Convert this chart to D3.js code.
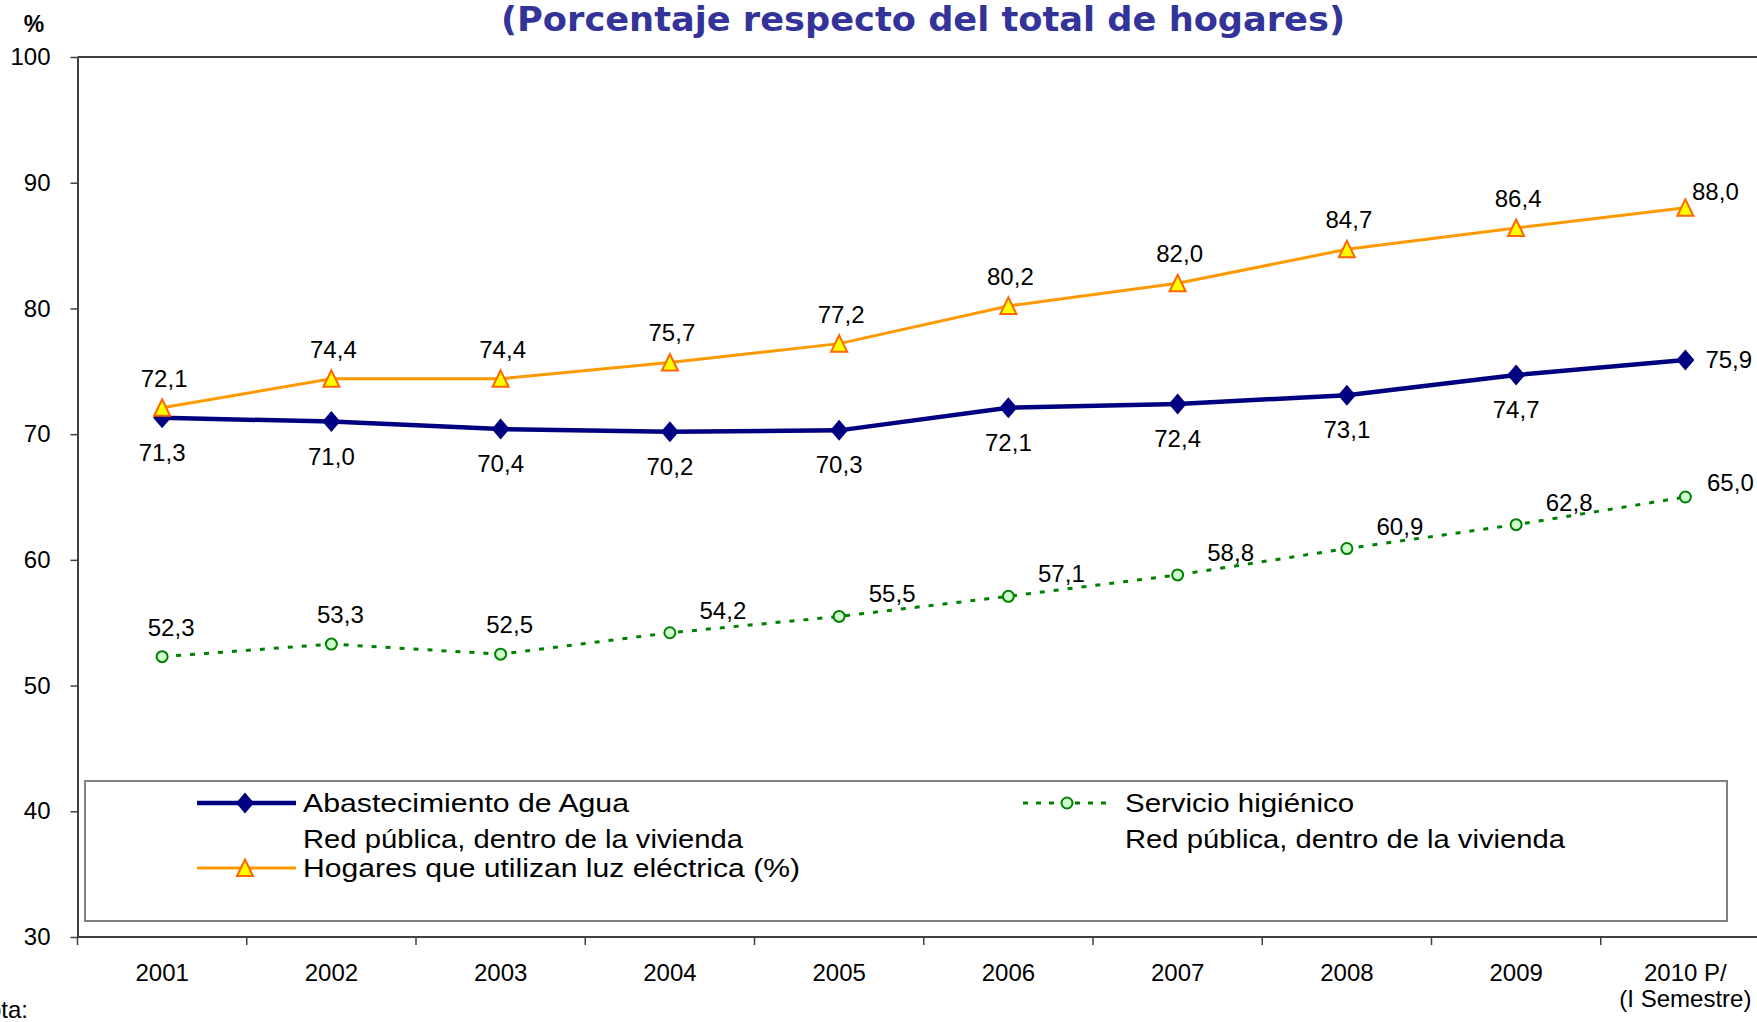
<!DOCTYPE html>
<html>
<head>
<meta charset="utf-8">
<script src="https://cdn.jsdelivr.net/npm/d3@7"></script>
<style>
  body { margin: 0; background: #fff; }
  svg { display: block; }
  text { font-family: "Liberation Sans", Arial, sans-serif; }
</style>
</head>
<body>
<div id="chart"></div>
<script>
var years = ["2001", "2002", "2003", "2004", "2005", "2006", "2007", "2008", "2009", "2010 P/"];
var agua = [71.3, 71.0, 70.4, 70.2, 70.3, 72.1, 72.4, 73.1, 74.7, 75.9];
var servicio = [52.3, 53.3, 52.5, 54.2, 55.5, 57.1, 58.8, 60.9, 62.8, 65.0];
var luz = [72.1, 74.4, 74.4, 75.7, 77.2, 80.2, 82.0, 84.7, 86.4, 88.0];
var yTicks = [30, 40, 50, 60, 70, 80, 90, 100];

var W = 1757, H = 1022;
var plotLeft = 77.5, plotTop = 57, plotBottom = 937, band = 169.25;

var svg = d3.select("#chart").append("svg")
	.attr("width", W)
	.attr("height", H);

var x = d3.scaleBand().domain(years).range([plotLeft, plotLeft + band * years.length]);
var y = d3.scaleLinear().domain([30, 100]).range([plotBottom, plotTop]);
var cx = d => x(d) + x.bandwidth() / 2;
var fmt = v => v.toFixed(1).replace(".", ",");

// title and unit
svg.append("text")
	.attr("x", 923).attr("y", 31)
	.attr("text-anchor", "middle")
	.attr("textLength", 844)
	.attr("lengthAdjust", "spacingAndGlyphs")
	.style("font-family", "'DejaVu Sans', Verdana, sans-serif")
	.style("font-weight", "bold")
	.style("font-size", "34px")
	.attr("fill", "#333399")
	.text("(Porcentaje respecto del total de hogares)");

svg.append("text")
	.attr("x", 34).attr("y", 32)
	.attr("text-anchor", "middle")
	.style("font-weight", "bold")
	.style("font-size", "23px")
	.text("%");

// plot border top
svg.append("line")
	.attr("x1", plotLeft).attr("x2", W)
	.attr("y1", plotTop).attr("y2", plotTop)
	.attr("stroke", "#404040").attr("stroke-width", 2);

// y axis
var yAxis = svg.append("g")
	.attr("transform", `translate(${plotLeft},0)`)
	.call(d3.axisLeft(y).tickValues(yTicks).tickSize(7).tickSizeOuter(0).tickPadding(20));
yAxis.select(".domain").attr("stroke", "#404040").attr("stroke-width", 2);
yAxis.selectAll(".tick line").attr("stroke", "#404040").attr("stroke-width", 1.5);
yAxis.selectAll("text")
	.style("font-family", "'Liberation Sans', Arial, sans-serif")
	.style("font-size", "24px")
	.attr("fill", "#000");

// x axis
svg.append("line")
	.attr("x1", plotLeft).attr("x2", W)
	.attr("y1", plotBottom).attr("y2", plotBottom)
	.attr("stroke", "#404040").attr("stroke-width", 2);

svg.append("g").selectAll("line")
	.data(years)
	.join("line")
	.attr("x1", d => x(d)).attr("x2", d => x(d))
	.attr("y1", plotBottom).attr("y2", plotBottom + 8)
	.attr("stroke", "#404040").attr("stroke-width", 1.5);

var xAxis = svg.append("g")
	.attr("transform", `translate(0,${plotBottom})`)
	.call(d3.axisBottom(x).tickSize(0).tickPadding(27));
xAxis.select(".domain").remove();
xAxis.selectAll("text")
	.style("font-family", "'Liberation Sans', Arial, sans-serif")
	.style("font-size", "24px")
	.attr("fill", "#000");
xAxis.selectAll(".tick text")
	.filter(d => d === "2010 P/")
	.append("tspan")
	.attr("x", 0).attr("dy", "1.1em")
	.text("(I Semestre)");

svg.append("text")
	.attr("x", 28).attr("y", 1018)
	.attr("text-anchor", "end")
	.style("font-size", "24px")
	.text("Nota:");

// series
var diamond = "M0,-10.5L9,0L0,10.5L-9,0Z";
var triangle = "M0,-8.5L8,8L-8,8Z";

function lineOf(values) {
	return d3.line()
		.x((d, i) => cx(years[i]))
		.y(d => y(d))(values);
}

// Abastecimiento de Agua
svg.append("path")
	.attr("d", lineOf(agua))
	.attr("fill", "none")
	.attr("stroke", "#000080")
	.attr("stroke-width", 4.5);
svg.append("g").selectAll("path")
	.data(agua)
	.join("path")
	.attr("transform", (d, i) => `translate(${cx(years[i])},${y(d)})`)
	.attr("d", diamond)
	.attr("fill", "#000080");

// Servicio higiénico
svg.append("path")
	.attr("d", lineOf(servicio))
	.attr("fill", "none")
	.attr("stroke", "#008000")
	.attr("stroke-width", 3)
	.attr("stroke-dasharray", "5,9");
svg.append("g").selectAll("circle")
	.data(servicio)
	.join("circle")
	.attr("cx", (d, i) => cx(years[i]))
	.attr("cy", d => y(d))
	.attr("r", 5.5)
	.attr("fill", "#CCFFCC")
	.attr("stroke", "#008000")
	.attr("stroke-width", 2);

// Luz eléctrica
svg.append("path")
	.attr("d", lineOf(luz))
	.attr("fill", "none")
	.attr("stroke", "#FF9900")
	.attr("stroke-width", 3);
svg.append("g").selectAll("path")
	.data(luz)
	.join("path")
	.attr("transform", (d, i) => `translate(${cx(years[i])},${y(d)})`)
	.attr("d", triangle)
	.attr("fill", "#FFFF00")
	.attr("stroke", "#FF6600")
	.attr("stroke-width", 2);

// data labels
var last = years.length - 1;
function labels(values, dx, dy, anchor) {
	svg.append("g").selectAll("text")
		.data(values)
		.join("text")
		.attr("x", (d, i) => cx(years[i]) + dx(i))
		.attr("y", (d, i) => y(d) + dy(i))
		.attr("text-anchor", (d, i) => anchor(i))
		.style("font-size", "24px")
		.attr("fill", "#000")
		.text(d => fmt(d));
}

labels(agua,
	i => i === last ? 20 : 0,
	i => i === last ? 8.5 : 43,
	i => i === last ? "start" : "middle");
labels(luz,
	i => i === last ? 30 : 2,
	i => i === last ? -8 : -21,
	i => "middle");
labels(servicio,
	i => i < 3 ? 9 : (i === last ? 45 : 53),
	i => i < 3 ? -21 : (i === last ? -6 : -14),
	i => "middle");

// legend
var lg = svg.append("g");
lg.append("rect")
	.attr("x", 85).attr("y", 781)
	.attr("width", 1642).attr("height", 140)
	.attr("fill", "#fff")
	.attr("stroke", "#808080")
	.attr("stroke-width", 2);

lg.append("line").attr("x1", 197).attr("x2", 296).attr("y1", 803).attr("y2", 803)
	.attr("stroke", "#000080").attr("stroke-width", 4.5);
lg.append("path").attr("transform", "translate(245,803)").attr("d", diamond).attr("fill", "#000080");

lg.append("line").attr("x1", 197).attr("x2", 296).attr("y1", 868).attr("y2", 868)
	.attr("stroke", "#FF9900").attr("stroke-width", 3);
lg.append("path").attr("transform", "translate(245,868)").attr("d", triangle)
	.attr("fill", "#FFFF00").attr("stroke", "#FF6600").attr("stroke-width", 2);

lg.append("line").attr("x1", 1023).attr("x2", 1112).attr("y1", 803).attr("y2", 803)
	.attr("stroke", "#008000").attr("stroke-width", 3).attr("stroke-dasharray", "5,8");
lg.append("circle").attr("cx", 1067).attr("cy", 803).attr("r", 5.5)
	.attr("fill", "#CCFFCC").attr("stroke", "#008000").attr("stroke-width", 2);

var legendTexts = [
	{ x: 303, y: 812, w: 326, t: "Abastecimiento de Agua" },
	{ x: 303, y: 848, w: 440, t: "Red pública, dentro de la vivienda" },
	{ x: 303, y: 877, w: 497, t: "Hogares que utilizan luz eléctrica (%)" },
	{ x: 1125, y: 812, w: 229, t: "Servicio higiénico" },
	{ x: 1125, y: 848, w: 440, t: "Red pública, dentro de la vivienda" }
];
lg.selectAll("text.lt")
	.data(legendTexts)
	.join("text")
	.attr("class", "lt")
	.attr("x", d => d.x).attr("y", d => d.y)
	.attr("textLength", d => d.w)
	.attr("lengthAdjust", "spacingAndGlyphs")
	.style("font-size", "26px")
	.attr("fill", "#000")
	.text(d => d.t);
</script>
</body>
</html>
